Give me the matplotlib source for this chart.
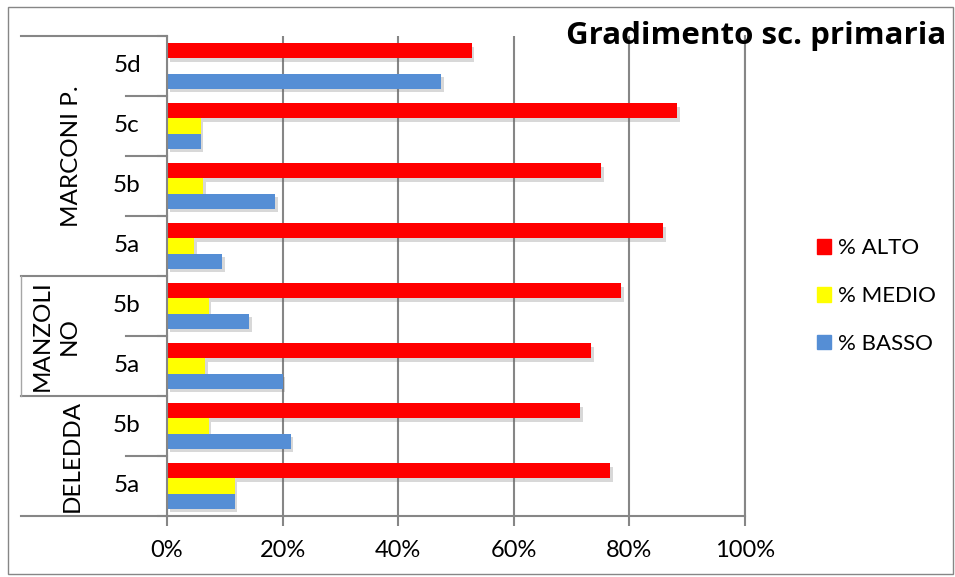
import matplotlib.pyplot as plt
import matplotlib.patheffects as pe
from matplotlib.patches import Rectangle, Patch
import matplotlib.transforms as mtrans

plt.rcParams['font.family'] = ['Lato', 'DejaVu Sans']

# dati (dal basso verso l'alto)
classi = ["5a", "5b", "5a", "5b", "5a", "5b", "5c", "5d"]
scuole = ["DELEDDA", "MANZOLI\nNO", "MARCONI P."]
classi_per_scuola = [2, 2, 4]
alto = [76.6, 71.5, 73.4, 78.6, 85.8, 75.1, 88.3, 52.7]
medio = [11.7, 7.2, 6.6, 7.2, 4.7, 6.2, 5.8, 0.0]
basso = [11.7, 21.4, 20.0, 14.2, 9.5, 18.7, 5.8, 47.4]

W, H = 955, 577
fig = plt.figure(figsize=(W / 100, H / 100), dpi=100)
x0, x1, y0, y1 = 167, 745, 36, 516
ax = fig.add_axes([x0 / W, 1 - y1 / H, (x1 - x0) / W, (y1 - y0) / H])

grigio = "#868686"
ombra = [pe.withSimplePatchShadow(offset=(2, -2.5), shadow_rgbFace="#666666", alpha=0.25)]
pos = list(range(len(classi)))
h = 0.255
b1 = ax.barh([p + h for p in pos], [v / 100 for v in alto], height=h, color="#FF0000")
b2 = ax.barh(pos, [v / 100 for v in medio], height=h, color="#FFFF00")
b3 = ax.barh([p - h for p in pos], [v / 100 for v in basso], height=h, color="#558ED5")
for bars in (b1, b2, b3):
    for r in bars:
        if r.get_width() > 0:
            r.set_path_effects(ombra)

ax.set_xlim(0, 1)
ax.set_ylim(-0.5, len(classi) - 0.5)
ax.set_xticks([0, 0.2, 0.4, 0.6, 0.8, 1.0])
ax.set_xticklabels(["0%", "20%", "40%", "60%", "80%", "100%"], fontsize=17)
ax.tick_params(axis="x", length=7, width=1.5, color=grigio, pad=10)
ax.set_yticks([p - 0.5 for p in range(len(classi) + 1)])
ax.set_yticklabels([])
ax.tick_params(axis="y", length=7, width=1.5, color=grigio)
ax.grid(axis="x", color=grigio, linewidth=1.5)
ax.set_axisbelow(True)
for s in ["left", "bottom", "right"]:
    ax.spines[s].set_color(grigio)
    ax.spines[s].set_linewidth(1.5)
ax.spines["top"].set_visible(False)

# etichette a due livelli
tr = mtrans.blended_transform_factory(ax.transAxes, ax.transData)
xs = lambda px: (px - x0) / (x1 - x0)
for p, c in zip(pos, classi):
    ax.text(xs(127), p, c, fontsize=17.5, ha="center", va="center", transform=tr)

inizio = 0
bordi_gruppo = [-0.5]
for n in classi_per_scuola:
    inizio += n
    bordi_gruppo.append(inizio - 0.5)
for yb in [p - 0.5 for p in range(len(classi) + 1)]:
    xa = xs(21) if yb in bordi_gruppo else xs(126)
    ax.plot([xa, 0], [yb, yb], color=grigio, lw=1.5, transform=tr, clip_on=False)

xcentri = [72, 56, 72]
for i, (s, n) in enumerate(zip(scuole, classi_per_scuola)):
    yc = (bordi_gruppo[i] + bordi_gruppo[i + 1]) / 2
    ax.text(xs(xcentri[i]), yc, s, fontsize=17.5, rotation=90, ha="center", va="center",
            transform=tr, linespacing=1.35, multialignment="center")
# linea verticale accanto a MANZOLINO
ax.plot([xs(21), xs(21)], [bordi_gruppo[1], bordi_gruppo[2]], color="#a6a6a6", lw=1,
        transform=tr, clip_on=False)

fig.text(946 / W, 1 - 36 / H, "Gradimento sc. primaria", fontsize=22.5, fontweight="bold",
         family=["Open Sans", "DejaVu Sans"], ha="right", va="center")

fig.legend(handles=[Patch(color="#FF0000", label="% ALTO"),
                    Patch(color="#FFFF00", label="% MEDIO"),
                    Patch(color="#558ED5", label="% BASSO")],
           loc="center left", bbox_to_anchor=(817 / W, 1 - 296 / H), frameon=False,
           fontsize=16, handlelength=0.65, handleheight=0.65, handletextpad=0.3,
           labelspacing=1.25, borderpad=0, borderaxespad=0)

fig.patches.append(Rectangle((8 / W, 1 - 574 / H), 945 / W, 567 / H, transform=fig.transFigure,
                             fill=False, edgecolor=grigio, lw=1))

fig.savefig("out.png", dpi=100)
